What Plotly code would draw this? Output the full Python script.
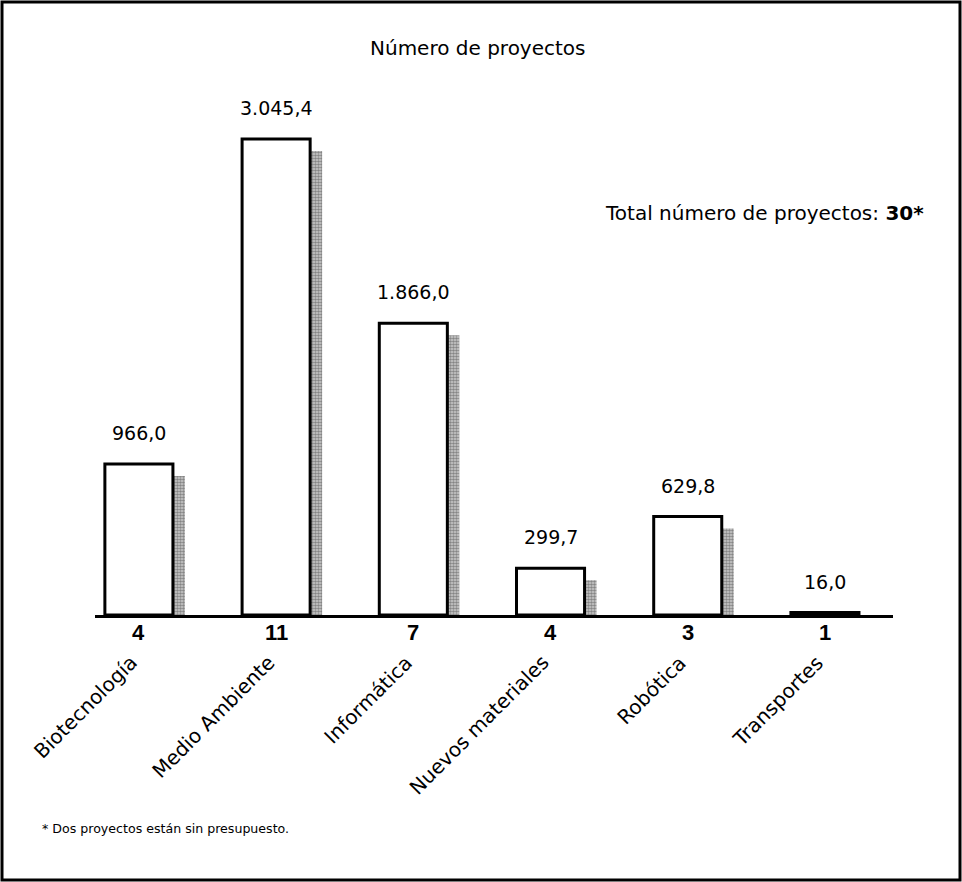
import plotly.graph_objects as go

# Presupuesto y número de proyectos por área
categorias = ["Biotecnología", "Medio Ambiente", "Informática",
              "Nuevos materiales", "Robótica", "Transportes"]
presupuesto = [966.0, 3045.4, 1866.0, 299.7, 629.8, 16.0]
proyectos = [4, 11, 7, 4, 3, 1]
total_proyectos = 30

FONT = "DejaVu Sans"
FONT_BOLD = "Liberation Sans"
W, H = 962, 882
M_L, M_R, M_T, M_B = 95, 69, 100, 267
PLOT_W = W - M_L - M_R
PLOT_H = H - M_T - M_B
Y_MAX = 3295.0
X_RANGE = [-0.32, 5.496]
BAR_W = 0.496
SHADOW_W = 0.0875
SHADOW_DROP_PX = 12


def px_x(p):
    return (p - M_L) / PLOT_W


def px_y(p):
    return (H - M_B - p) / PLOT_H


def fmt_es(v):
    s = f"{v:,.1f}"
    return s.replace(",", "_").replace(".", ",").replace("_", ".")


xs = list(range(len(categorias)))
drop = SHADOW_DROP_PX * Y_MAX / PLOT_H
sombra = [max(v - drop, 0) for v in presupuesto]

fig = go.Figure()

# sombra punteada a la derecha de cada barra
fig.add_trace(go.Bar(
    x=xs, y=sombra, width=SHADOW_W, offset=BAR_W / 2,
    marker=dict(color="#a8a8a8", line=dict(width=0),
                pattern=dict(shape=".", fgcolor="#3c3c3c", bgcolor="#cfcfcf",
                             size=3, solidity=0.6)),
    hoverinfo="skip", showlegend=False,
))

fig.add_trace(go.Bar(
    x=xs, y=presupuesto, width=BAR_W,
    marker=dict(color="white", line=dict(color="black", width=3)),
    showlegend=False,
))

annotations = []
for i, v in enumerate(presupuesto):
    annotations.append(dict(
        x=i, y=v, xref="x", yref="y", text=fmt_es(v), showarrow=False,
        yanchor="bottom", yshift=18, font=dict(family=FONT, size=19, color="black"),
    ))
    annotations.append(dict(
        x=i, y=px_y(632), xref="x", yref="paper", text=f"<b>{proyectos[i]}</b>",
        showarrow=False, yanchor="middle",
        font=dict(family=FONT_BOLD, size=22, color="black"),
    ))
    annotations.append(dict(
        x=i, y=px_y(648), xref="x", yref="paper", text=categorias[i],
        showarrow=False, textangle=-45, xanchor="right", yanchor="top", xshift=6,
        font=dict(family=FONT, size=20, color="black"),
    ))

annotations.append(dict(
    x=px_x(478), y=px_y(48), xref="paper", yref="paper", text="Número de proyectos",
    showarrow=False, xanchor="center", yanchor="middle",
    font=dict(family=FONT, size=20, color="black"),
))
annotations.append(dict(
    x=px_x(926), y=px_y(213), xref="paper", yref="paper",
    text=f"Total número de proyectos: <b>{total_proyectos}*</b>",
    showarrow=False, xanchor="right", yanchor="middle",
    font=dict(family=FONT, size=20, color="black"),
))
annotations.append(dict(
    x=px_x(40), y=px_y(828), xref="paper", yref="paper",
    text="* Dos proyectos están sin presupuesto.",
    showarrow=False, xanchor="left", yanchor="middle",
    font=dict(family=FONT, size=12.6, color="black"),
))

fig.update_layout(
    width=W, height=H,
    margin=dict(l=M_L, r=M_R, t=M_T, b=M_B, pad=0),
    paper_bgcolor="white", plot_bgcolor="white",
    barmode="overlay",
    xaxis=dict(range=X_RANGE, showgrid=False, zeroline=False, showticklabels=False,
               ticks="", showline=True, linecolor="black", linewidth=3, fixedrange=True),
    yaxis=dict(range=[0, Y_MAX], visible=False, fixedrange=True),
    annotations=annotations,
    shapes=[dict(type="rect", xref="paper", yref="paper",
                 x0=px_x(2), x1=px_x(960), y0=px_y(880), y1=px_y(2),
                 line=dict(color="black", width=3), fillcolor="rgba(0,0,0,0)")],
)

fig.write_html("out.html")
